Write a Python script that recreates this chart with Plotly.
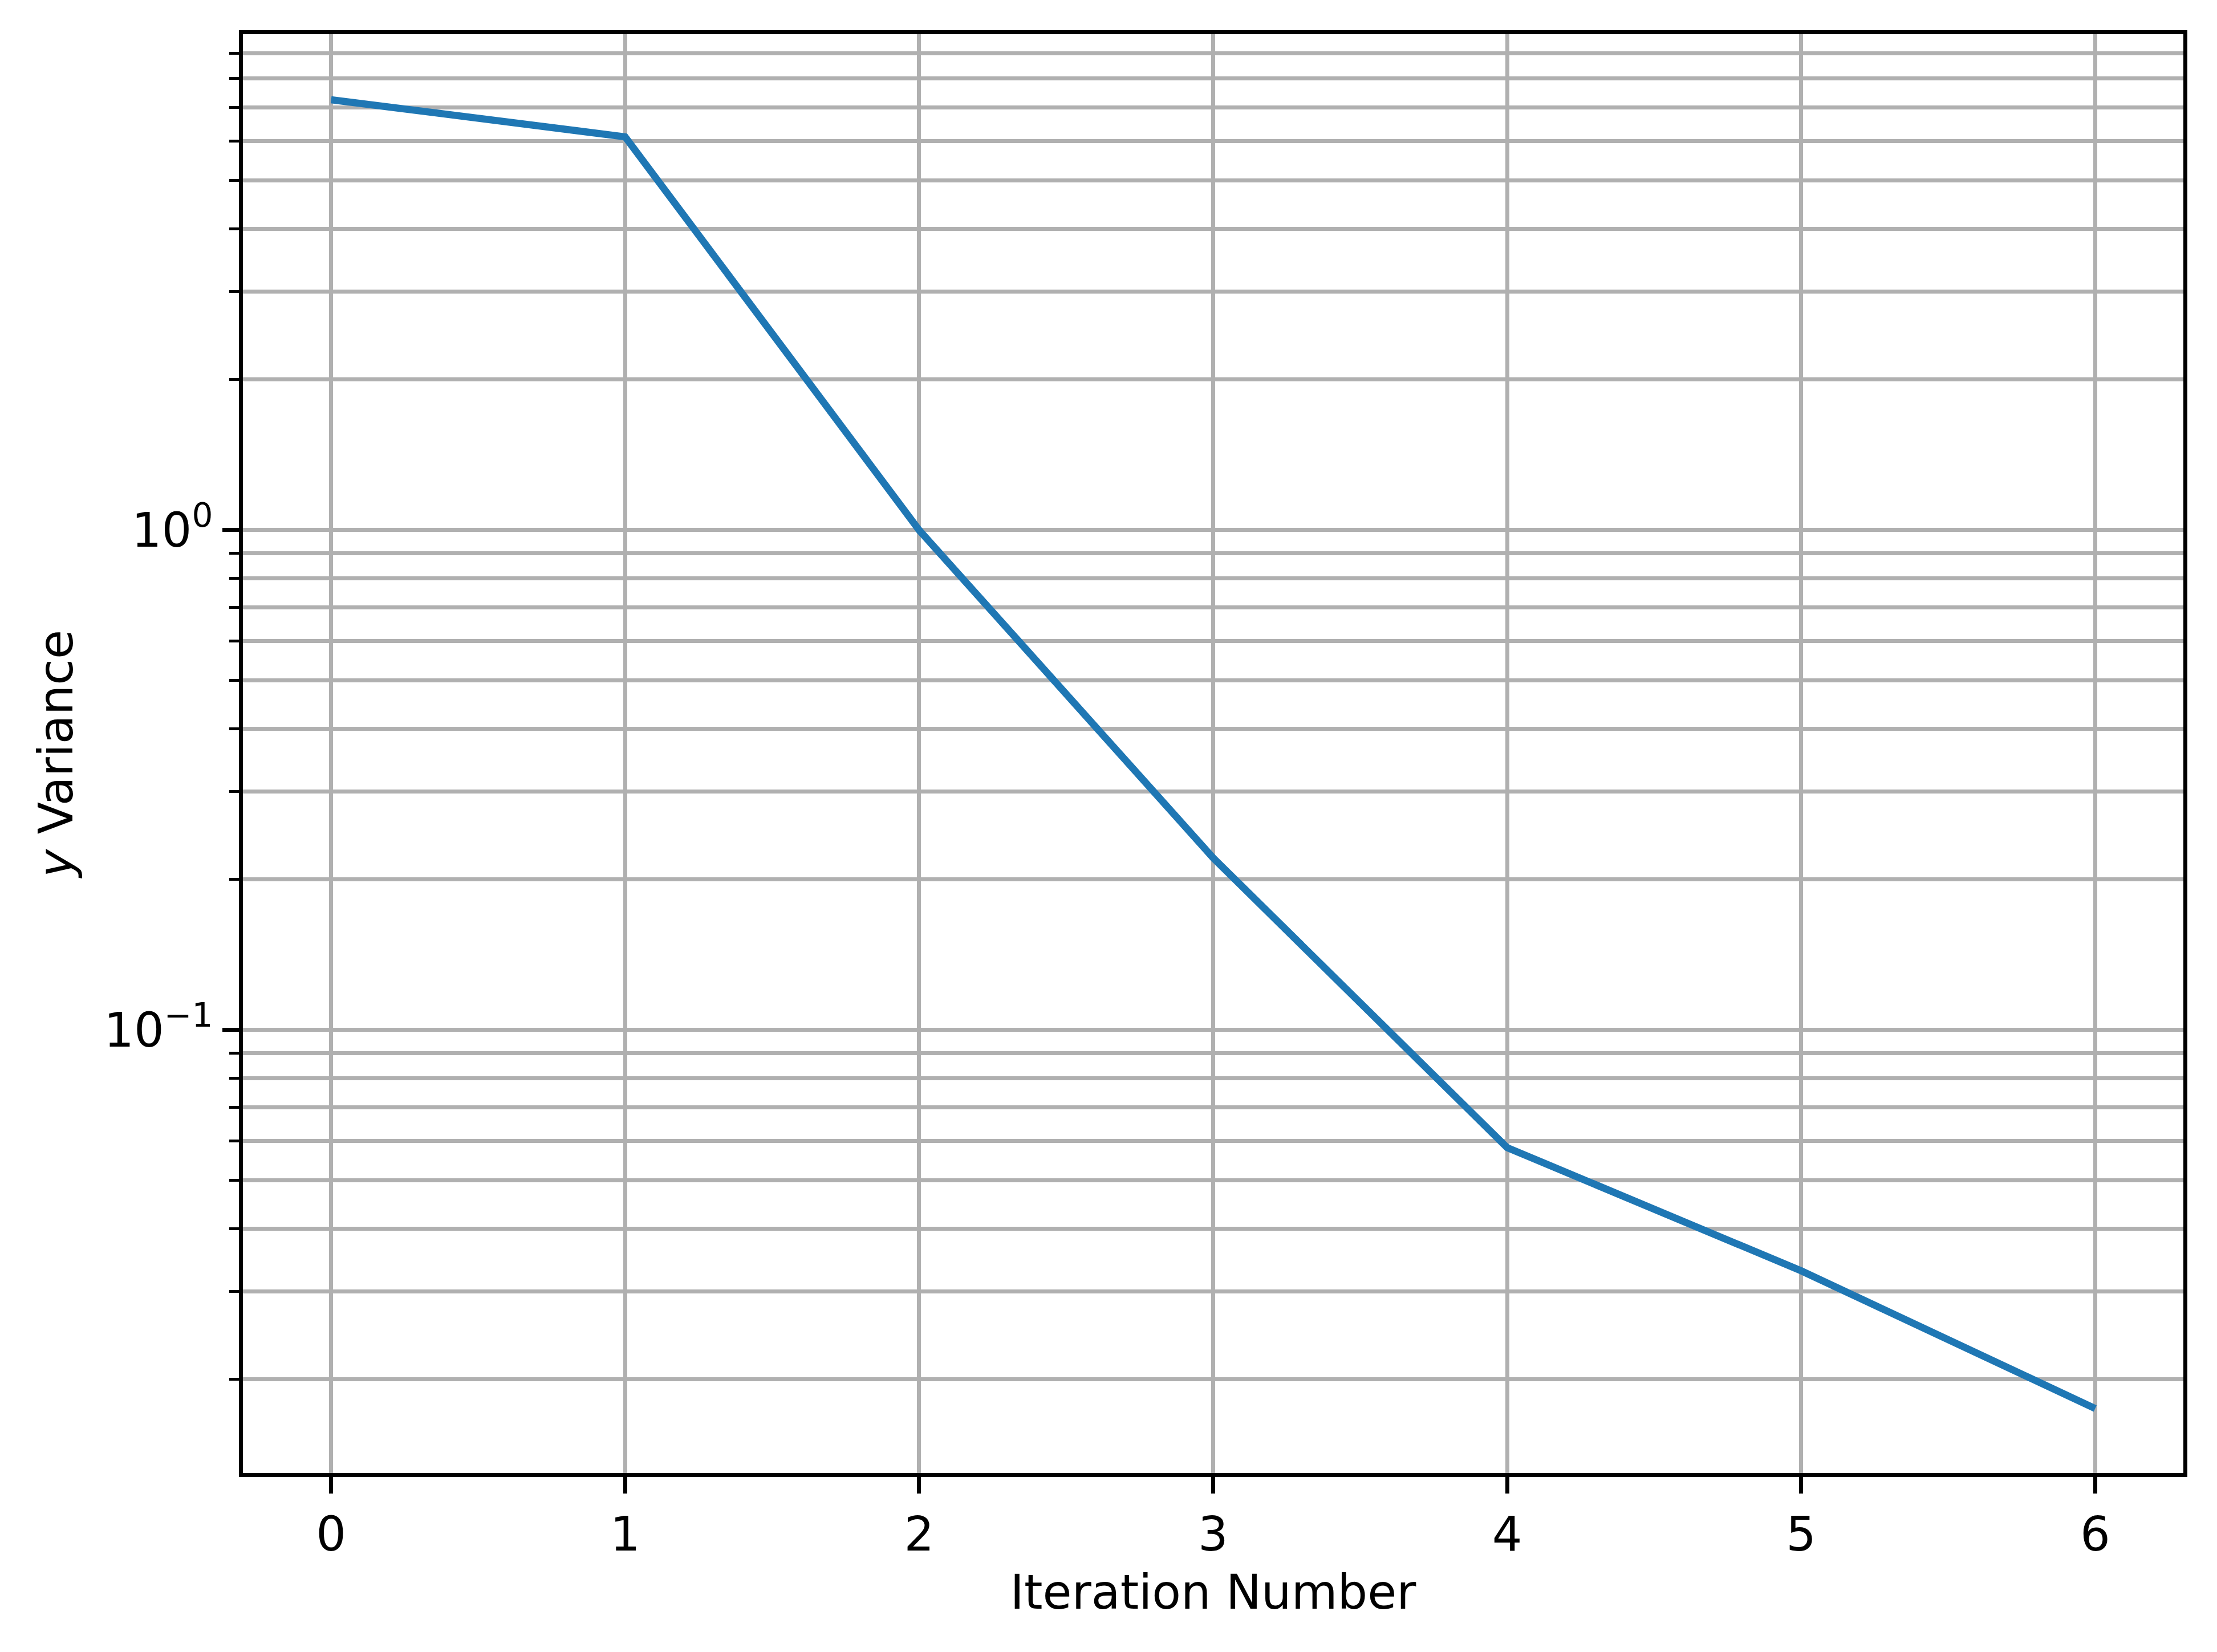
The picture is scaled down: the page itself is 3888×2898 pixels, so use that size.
import plotly.graph_objects as go

# values
iterations = [0, 1, 2, 3, 4, 5, 6]
y_variance = [7.26, 6.12, 1.0, 0.221, 0.0582, 0.033, 0.0175]

x_ticks = [0, 1, 2, 3, 4, 5, 6]
y_major = [0.1, 1]
y_major_text = ["10<sup>\u22121</sup>", "10<sup>0</sup>"]
y_minor = [0.02, 0.03, 0.04, 0.05, 0.06, 0.07, 0.08, 0.09,
           0.2, 0.3, 0.4, 0.5, 0.6, 0.7, 0.8, 0.9,
           2, 3, 4, 5, 6, 7, 8, 9]

font = "DejaVu Sans"
fs = 83
grid = "#b0b0b0"

fig = go.Figure()
fig.add_trace(go.Scatter(x=iterations, y=y_variance, mode="lines",
                         line=dict(color="#1f77b4", width=12.5),
                         showlegend=False))

fig.update_layout(
    width=3888, height=2898,
    margin=dict(l=426, r=59, t=60, b=314),
    plot_bgcolor="white", paper_bgcolor="white",
    font=dict(family=font, size=fs, color="black"),
)

fig.update_xaxes(
    range=[-0.3, 6.3], tickvals=x_ticks,
    showline=True, mirror=True, linecolor="black", linewidth=7,
    ticks="outside", ticklen=29, tickwidth=7, tickcolor="black",
    showgrid=True, gridcolor=grid, gridwidth=7, zeroline=False,
    title=dict(text="Iteration Number", font=dict(size=fs), standoff=28),
)
fig.update_yaxes(
    type="log", range=[-1.886, 0.992],
    tickvals=y_major, ticktext=y_major_text,
    showline=True, mirror=True, linecolor="black", linewidth=7,
    ticks="outside", ticklen=29, tickwidth=7, tickcolor="black",
    showgrid=True, gridcolor=grid, gridwidth=7, zeroline=False,
    minor=dict(tickvals=y_minor, ticks="outside", ticklen=17, tickwidth=5,
               tickcolor="black", showgrid=True, gridcolor=grid, gridwidth=7),
    title=dict(text="<i>y</i> Variance", font=dict(size=fs), standoff=30),
)

fig.write_html("out.html", config={"displayModeBar": False},
               post_script="document.body.style.margin='0';")
